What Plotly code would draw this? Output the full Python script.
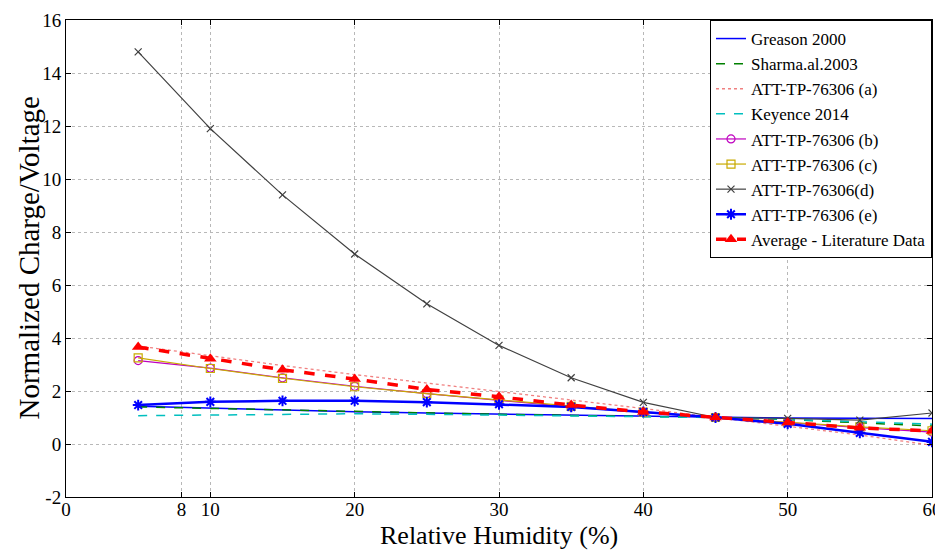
import plotly.graph_objects as go

rh = [5, 10, 15, 20, 25, 30, 35, 40, 45, 50, 55, 60]

greason_2000 = [1.42, 1.35, 1.28, 1.22, 1.17, 1.13, 1.09, 1.05, 1.00, 0.98, 0.97, 0.96]
sharma_2003 = [1.40, 1.34, 1.29, 1.22, 1.17, 1.12, 1.08, 1.04, 1.00, 0.92, 0.81, 0.68]
att_a = [3.70, 3.32, 2.96, 2.62, 2.30, 1.98, 1.68, 1.34, 1.00, 0.68, 0.34, -0.05]
keyence_2014 = [1.07, 1.10, 1.13, 1.14, 1.12, 1.09, 1.05, 1.03, 1.00, 0.93, 0.85, 0.75]
att_b = [3.15, 2.86, 2.50, 2.18, 1.90, 1.64, 1.40, 1.19, 1.00, 0.80, 0.62, 0.45]
att_c = [3.25, 2.85, 2.48, 2.16, 1.90, 1.66, 1.42, 1.20, 1.00, 0.82, 0.65, 0.50]
att_d = [14.80, 11.90, 9.40, 7.17, 5.29, 3.72, 2.50, 1.57, 1.00, 0.97, 0.90, 1.17]
att_e = [1.47, 1.59, 1.63, 1.63, 1.58, 1.50, 1.40, 1.21, 1.00, 0.76, 0.42, 0.08]
average = [3.66, 3.22, 2.80, 2.45, 2.06, 1.78, 1.47, 1.21, 1.00, 0.81, 0.61, 0.49]

x_ticks = [0, 8, 10, 20, 30, 40, 50, 60]
y_ticks = [-2, 0, 2, 4, 6, 8, 10, 12, 14, 16]

SERIF = "Times New Roman"

fig = go.Figure()

fig.add_trace(go.Scatter(x=rh, y=greason_2000, name="Greason 2000", mode="lines",
                         line=dict(color="#0000ff", width=1.5)))
fig.add_trace(go.Scatter(x=rh, y=sharma_2003, name="Sharma.al.2003", mode="lines",
                         line=dict(color="#008000", width=1.5, dash="dash")))
fig.add_trace(go.Scatter(x=rh, y=att_a, name="ATT-TP-76306 (a)", mode="lines",
                         line=dict(color="#f08080", width=1.3, dash="dot")))
fig.add_trace(go.Scatter(x=rh, y=keyence_2014, name="Keyence 2014", mode="lines",
                         line=dict(color="#00bfbf", width=1.5, dash="dash")))
fig.add_trace(go.Scatter(x=rh, y=att_b, name="ATT-TP-76306 (b)", mode="lines+markers",
                         line=dict(color="#bf00bf", width=1.2),
                         marker=dict(symbol="circle-open", size=8, color="#bf00bf", line=dict(width=1.2))))
fig.add_trace(go.Scatter(x=rh, y=att_c, name="ATT-TP-76306 (c)", mode="lines+markers",
                         line=dict(color="#c8aa00", width=1.2),
                         marker=dict(symbol="square-open", size=8, color="#c8aa00", line=dict(width=1.2))))
fig.add_trace(go.Scatter(x=rh, y=att_d, name="ATT-TP-76306(d)", mode="lines+markers",
                         line=dict(color="#404040", width=1.2),
                         marker=dict(symbol="x-thin-open", size=7, color="#404040", line=dict(width=1.2))))
fig.add_trace(go.Scatter(x=rh, y=att_e, name="ATT-TP-76306 (e)", mode="lines+markers",
                         line=dict(color="#0000ff", width=2.5),
                         marker=dict(symbol="asterisk-open", size=9, color="#0000ff", line=dict(width=2))))
fig.add_trace(go.Scatter(x=rh, y=average, name="Average - Literature Data", mode="lines+markers",
                         line=dict(color="#ff0000", width=3.5, dash="dash"),
                         marker=dict(symbol="triangle-up", size=11, color="#ff0000")))

axis_common = dict(
    showline=True, linecolor="black", linewidth=1, mirror="allticks",
    ticks="inside", ticklen=5, tickcolor="black",
    showgrid=True, gridcolor="#b8b8b8", griddash="dot", gridwidth=1,
    zeroline=False, automargin=False,
    tickfont=dict(family=SERIF, size=19, color="black"),
)

fig.update_xaxes(range=[0, 60], tickmode="array", tickvals=x_ticks,
                 ticktext=[str(v) for v in x_ticks], ticklabelstandoff=-5, **axis_common)
fig.update_yaxes(range=[-2, 16], tickmode="array", tickvals=y_ticks,
                 ticktext=[str(v) for v in y_ticks], **axis_common)

fig.add_annotation(text="Relative Humidity (%)", xref="paper", yref="paper",
                   x=0.5, y=0, yanchor="middle", yshift=-38, showarrow=False,
                   font=dict(family=SERIF, size=26, color="black"))
fig.add_annotation(text="Normalized Charge/Voltage", xref="paper", yref="paper",
                   x=0, y=0.5, xanchor="center", xshift=-38, textangle=-90, showarrow=False,
                   font=dict(family=SERIF, size=29, color="black"))

# page has an 8px body margin: shrink the figure so the plot area lands where the reference has it
fig.update_layout(
    width=935, height=542,
    margin=dict(l=58, r=11, t=12, b=53),
    plot_bgcolor="white", paper_bgcolor="white",
    font=dict(family=SERIF, color="black"),
    legend=dict(x=1, xanchor="right", y=1, yanchor="top",
                bgcolor="white", bordercolor="black", borderwidth=1,
                font=dict(family=SERIF, size=17, color="black"),
                itemwidth=30, tracegroupgap=0),
    showlegend=True,
)

fig.write_html("out.html")
